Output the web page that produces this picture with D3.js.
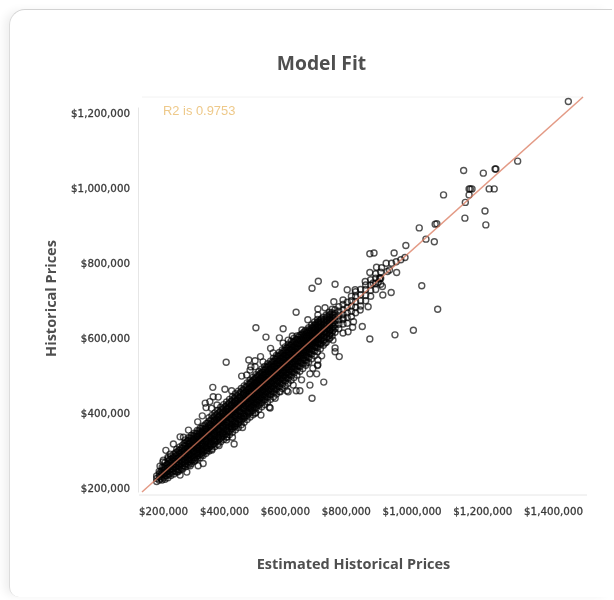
<!DOCTYPE html>
<html>
<head>
<meta charset="utf-8">
<script src="https://cdn.jsdelivr.net/npm/d3@7"></script>
<style>
  html, body { margin: 0; background: #fff; overflow: hidden; }
  #card {
    position: absolute; left: 9px; top: 9px; width: 603px; height: 588px;
    border-top: 1px solid #d2d2d2; border-left: 1px solid #dcdcdc;
    border-radius: 16px 0 0 10px; box-sizing: border-box;
    box-shadow: -6px 0 10px -2px rgba(0, 0, 0, .07);
  }
  svg { position: absolute; left: 0; top: 0; filter: blur(.5px); }
  text { font-family: "Open Sans", sans-serif; }
  .axis text { font-family: "DejaVu Sans", sans-serif; font-size: 10.3px; fill: #3a3a3a; stroke: #3a3a3a; stroke-width: .3px; }
  .axis line { display: none; }
  .axis path { stroke: #e6e6e6; }
</style>
</head>
<body>
<div id="card"></div>
<script>
// all prices in $ thousands
var xTickLabels = ['$200,000', '$400,000', '$600,000', '$800,000', '$1,000,000', '$1,200,000', '$1,400,000'];
var yTicks = [200, 400, 600, 800, 1000, 1200];
var fitLine = [190, 1243];
var r2Label = 'R2 is 0.9753';

// points that can be read one by one: [estimated, historical]
var loosePoints = [
  [1208,1231],[1087,1072],[958,1047],[1005,1040],[1033,1051],[1035,1051],[974,998],[971,998],[978,998],
  [1019,998],[1031,998],[971,982],[910,982],[962,962],[1009,939],[961,920],[1011,902],[852,894],[894,905],
  [890,904],[868,864],[888,857],[820,847],[792,827],[818,815],[744,827],[734,825],[808,809],[797,804],
  [786,800],[773,800],[750,789],[762,788],[781,782],[776,778],[798,775],[734,775],[758,758],[723,751],
  [754,749],[764,738],[858,740],[785,722],[765,715],[611,752],[596,733],[651,744],[896,677],[730,684],
  [716,631],[734,598],[794,609],[838,621],[695,644],[693,629],[661,551],[651,564],[619,553],[609,527],
  [670,614],[651,574],[646,595],[742,747],[758,761],
  [558,669],[462,628],[486,603],[527,625],[518,601],[549,606],[497,573],[391,536],[445,542],[460,540],
  [473,551],[450,524],[428,499],[440,502],[359,469],[388,464],[404,460],[372,443],[360,444],[352,431],
  [343,415],[356,413],[334,393],[323,377],[301,355],[289,336],[265,318],[247,301],[233,259],[241,275],
  [257,291],[624,483],[596,440],[610,529],[607,505],[591,475],[571,489],[558,460],[567,460],[591,505],
  [536,460],[508,440],[494,416],[474,395],[460,400],[430,362],[412,364],[406,336],[410,318],[374,314],
  [336,266],[324,260],[281,235],[276,244],[305,260],[346,300],[392,329],
  // rings on the edge of the band
  [539,595],[586,649],[610,662],[572,622],[448,515],[460,524],[479,537],[503,561],[527,587],
  [583,534],[598,520],[610,542],[551,475],[539,457],[496,414],[520,457],[627,587],[639,622],
  [341,427],[369,422],[281,337],[252,283],[240,270],[333,289],[393,337],[357,302],[297,243],[317,275],
  [670,702],[648,697],[627,681],[610,678],[680,729],[699,729],[711,675],[670,654],[682,617],[639,601],[627,617]
];

// dense band, points can't be told apart here so these are estimates: [estimated, [historical...]]
var bandColumns = [
  [225,[218,226,233]],[231,[222,230,238,245]],[238,[222,231,240,248,256]],[245,[224,233,242,251,259,268]],
  [252,[228,237,246,255,263,272,279]],[259,[234,243,252,260,269,277,286]],[266,[238,247,256,265,273,282,291]],
  [273,[243,252,261,270,279,287,296,304]],[280,[248,257,266,275,284,293,301,310]],[287,[251,260,270,279,288,297,306,315]],
  [294,[257,266,275,285,294,303,312,321,329]],[301,[262,271,281,290,299,308,318,327,335]],[308,[266,276,285,295,304,313,323,332,341]],
  [315,[272,281,291,300,310,319,329,338,347]],[322,[278,287,297,306,316,326,335,345,354]],[329,[282,292,302,312,321,331,340,350,360]],
  [336,[287,297,307,317,327,337,346,356,366]],[343,[293,303,313,323,333,343,352,362,372]],[350,[299,309,319,329,339,349,359,369,379,388]],
  [357,[305,315,325,335,345,355,365,375,385,394]],[364,[311,321,331,341,352,362,372,382,392,401]],[371,[317,327,338,348,358,368,379,389,399,408]],
  [378,[324,334,344,355,365,375,386,396,406,416]],[385,[330,340,351,361,372,382,392,403,413,423]],[392,[336,347,357,368,378,389,399,410,420,430]],
  [399,[343,353,364,374,385,396,406,417,427,437]],[406,[349,360,370,381,392,402,413,424,434,444]],[413,[356,367,377,388,399,410,420,431,442,452]],
  [420,[362,373,384,395,406,416,427,438,449,459]],[427,[369,380,391,402,413,424,434,445,456,466]],[434,[376,387,398,409,420,431,441,452,463,473]],
  [441,[383,394,405,416,427,438,449,460,471,481]],[448,[390,401,412,423,434,445,456,467,478,488]],[455,[396,407,418,430,441,452,463,474,486,496]],
  [462,[402,414,425,437,448,459,471,482,493,503]],[469,[410,421,433,444,455,467,478,489,500,511]],[476,[417,428,440,451,462,474,485,497,508,518]],
  [483,[423,435,446,458,469,481,492,504,515,525]],[490,[430,442,453,465,476,488,499,511,522,532]],[497,[437,449,460,472,484,495,507,518,529,539]],
  [504,[444,456,467,479,491,502,514,526,537,547]],[511,[451,463,475,486,498,510,521,533,544,554]],[518,[458,470,482,494,505,517,529,540,552,562]],
  [525,[466,477,489,501,513,524,536,548,559,569]],[532,[473,485,496,508,520,532,543,555,567,577]],[539,[480,492,504,516,527,539,551,563,574,584]],
  [546,[488,499,511,523,535,547,558,570,582,592]],[553,[495,507,519,531,542,554,566,578,590,600]],[560,[502,514,526,538,550,561,573,585,597,606]],
  [567,[512,524,536,548,560,572,584,596,608]],[574,[519,531,543,555,567,579,591,603,614]],[581,[528,540,552,564,576,588,600,611,621]],
  [588,[536,548,560,572,584,595,607,618,628]],[595,[545,557,569,581,592,603,614,625,635]],[602,[553,565,577,589,600,612,623,634,643]],
  [609,[564,575,586,597,608,619,630,641,650]],[616,[572,583,594,605,616,627,638,648]],[623,[581,592,603,614,624,635,645,656]],
  [630,[589,600,611,621,632,642,652,662]],[637,[598,608,619,629,640,650,660,669]],[644,[606,616,627,637,647,657,668,677]],
  [651,[616,626,636,646,656,666,676]],[660,[625,637,649,660,672,684]],[670,[638,650,663,676,690]],[680,[640,655,668,682,696]],
  [690,[658,672,686,700,712]],[700,[668,682,698,712,724]],[712,[686,700,716,730]],[724,[700,714,730,742]],[736,[712,728,742,756]],
  [748,[730,746,760,772]],[760,[744,760,776]]
];

// second pass through the middle of the band, same kind of estimate
var coreColumns = [
  [235,[226,235,244]],[242,[228,238,247,256]],[249,[234,244,253,262]],[256,[238,248,257,267,276]],[263,[243,252,262,272,281]],
  [270,[246,256,266,276,286,294]],[277,[250,260,270,281,291,300]],[284,[254,265,275,285,295,306]],[291,[260,270,281,291,301,312,320]],
  [298,[265,276,286,297,307,318,326]],[305,[270,281,292,303,313,324,334]],[312,[276,287,298,309,319,330,340]],[319,[282,293,304,315,326,337,346]],
  [326,[288,299,310,321,332,343,353]],[333,[294,305,316,328,339,350,360]],[340,[300,311,323,334,345,357,367]],[347,[306,318,329,341,352,363,374]],
  [354,[312,324,336,347,359,370,381]],[361,[318,330,342,354,366,377,389]],[368,[325,337,349,361,373,384,396]],[375,[331,343,356,368,380,392,403]],
  [382,[338,350,362,375,387,399,411]],[389,[344,357,369,382,394,406,418]],[396,[351,364,376,389,401,413,425]],[403,[358,371,383,396,408,420,432]],
  [410,[365,378,390,403,415,428,440]],[417,[372,385,397,410,423,435,447]],[424,[379,392,404,417,430,442,455]],[431,[386,399,412,424,437,450,462]],
  [438,[393,406,419,432,445,457,470]],[445,[400,413,426,439,452,465,478]],[452,[407,420,433,446,459,472,485]],[459,[414,427,440,453,466,480,492]],
  [466,[421,434,447,461,474,487,500]],[473,[428,441,455,468,481,494,507]],[480,[435,449,462,475,488,502,515]],[487,[443,456,469,483,496,509,522]],
  [494,[450,463,477,490,503,517,529]],[501,[457,471,484,497,511,524,537]],[508,[464,478,491,505,518,531,544]],[515,[472,485,499,512,526,539,552]],
  [522,[479,493,506,520,533,547,559]],[529,[487,500,514,527,541,554,567]],[536,[494,508,521,535,548,562,574]],[543,[502,515,529,542,556,569,581]],
  [550,[510,523,536,550,563,576,589]],[557,[517,531,544,557,571,584,596]],[564,[526,539,552,565,578,591,603]],[571,[534,547,560,573,586,598,610]],
  [578,[542,555,568,581,593,606,617]],[585,[551,563,576,588,600,613]],[592,[559,571,584,596,608,620]],[599,[567,579,591,604,615,627]],
  [606,[576,588,600,611,623,634]],[613,[585,596,608,619,630,641]]
];

// third pass, fills what the first two leave open
var fillColumns = [
  [303,[276,290,305,319]],[313,[283,299,314,329]],[323,[292,308,323,338]],[333,[300,318,334,348]],[343,[309,326,344,358]],
  [353,[317,335,354,369]],[363,[326,345,364,380]],[373,[336,355,374,390]],[383,[345,365,384,401]],[393,[354,375,394,412]],
  [403,[364,385,404,422]],[413,[373,394,414,433]],[423,[383,405,424,443]],[433,[392,414,434,454]],[443,[403,424,445,464]],
  [450,[416,430,441,457,468,482]],[457,[424,436,449,463,475,489]],[464,[430,444,456,470,482,495]],[471,[438,450,464,476,490,503]],
  [478,[445,458,470,484,497,509]],[485,[451,466,479,491,504,516]],[492,[460,472,486,499,511,524]],[499,[466,480,493,505,519,531]],
  [506,[474,487,500,513,525,538]],[513,[480,495,508,520,534,545]],[520,[489,501,515,528,540,553]],[527,[495,510,522,535,549,560]],
  [534,[503,516,530,543,555,568]],[541,[510,524,537,550,563,575]],[548,[518,531,545,557,570,582]],[555,[525,539,552,565,577,589]],
  [562,[533,546,559,572,585,596]],[569,[541,554,566,579,592,603]],[576,[548,561,574,587,599,610]],[583,[557,569,582,594,606,616]],
  [590,[565,577,589,601,613,623]],[597,[573,585,597,609,620,630]],[604,[581,594,605,616,627,637]],[611,[590,602,613,624,635,644]],
  [618,[587,598,610,621,632,643,651]],[625,[596,607,618,629,640,650]],[632,[604,615,626,637,647,657]],[639,[612,623,634,645,655,664]],
  [646,[621,632,642,652,662]]
];

var width = 614, height = 600;
var svg = d3.select('body').append('svg')
  .attr('width', width)
  .attr('height', height);

var x = d3.scaleLinear().domain(fitLine).range([142, 583]);
var y = d3.scaleLinear().domain(fitLine).range([492, 97]);

var points = loosePoints.slice();
bandColumns.concat(coreColumns, fillColumns).forEach(c => c[1].forEach(h => points.push([c[0], h])));

// faint top rule of the plot
svg.append('line')
  .attr('x1', 142).attr('x2', 583).attr('y1', 97).attr('y2', 97)
  .attr('stroke', '#f2f2f2');

var yAxis = svg.append('g')
  .attr('class', 'axis')
  .attr('transform', 'translate(138,0)')
  .call(d3.axisLeft(y.copy().domain([190, 1213]).range([492, 107]))
    .tickValues([])
    .tickSizeOuter(0));

// the tick labels follow the real y scale, only the rule stops short of the top
svg.append('g')
  .attr('class', 'axis')
  .attr('transform', 'translate(138,0)')
  .call(d3.axisLeft(y)
    .tickValues(yTicks)
    .tickSizeOuter(0)
    .tickPadding(2)
    .tickFormat(d => d3.format('$,')(d * 1000)))
  .select('.domain').remove();

// x labels are spread edge to edge with equal gaps, not on the data scale
var xBand = d3.scalePoint().domain(xTickLabels).range([163, 553]);
var xAxis = svg.append('g')
  .attr('class', 'axis')
  .attr('transform', 'translate(0,495)')
  .call(d3.axisBottom(xBand).tickSizeOuter(0).tickPadding(7));
xAxis.select('.domain').attr('d', 'M139,0H587');

var labelWidths = [];
xAxis.selectAll('.tick text').each(function() { labelWidths.push(this.getComputedTextLength()); });
var gap = (583 - 139 - d3.sum(labelWidths)) / (labelWidths.length - 1);
var cursor = 139;
xAxis.selectAll('.tick').attr('transform', (d, i) => {
  var cx = cursor + labelWidths[i] / 2;
  cursor += labelWidths[i] + gap;
  return 'translate(' + cx + ',0)';
});

svg.append('g')
  .selectAll('circle')
  .data(points)
  .enter().append('circle')
    .attr('cx', d => x(d[0]))
    .attr('cy', d => y(d[1]))
    .attr('r', 3)
    .attr('fill', 'none')
    .attr('stroke', '#000')
    .attr('stroke-opacity', .68)
    .attr('stroke-width', 1.4);

svg.append('line')
  .attr('x1', x(fitLine[0])).attr('y1', y(fitLine[0]))
  .attr('x2', x(fitLine[1])).attr('y2', y(fitLine[1]))
  .attr('stroke', '#d9785c')
  .attr('stroke-opacity', .75)
  .attr('stroke-width', 1.5);

svg.append('text')
  .attr('x', 163).attr('y', 114.5)
  .style('font-family', '"Liberation Sans", sans-serif')
  .style('font-size', '12.9px')
  .attr('fill', '#eec98a')
  .text(r2Label);

svg.append('text')
  .attr('x', 321.5).attr('y', 70)
  .attr('text-anchor', 'middle')
  .style('font-size', '19.3px').style('font-weight', 700)
  .attr('fill', '#4f4f4f')
  .text('Model Fit');

svg.append('text')
  .attr('transform', 'translate(56,298.5) rotate(-90)')
  .attr('text-anchor', 'middle')
  .style('font-size', '14.5px').style('font-weight', 700)
  .attr('fill', '#4f4f4f')
  .text('Historical Prices');

svg.append('text')
  .attr('x', 353.5).attr('y', 569)
  .attr('text-anchor', 'middle')
  .style('font-size', '14.5px').style('font-weight', 700)
  .attr('fill', '#4f4f4f')
  .text('Estimated Historical Prices');
</script>
</body>
</html>
